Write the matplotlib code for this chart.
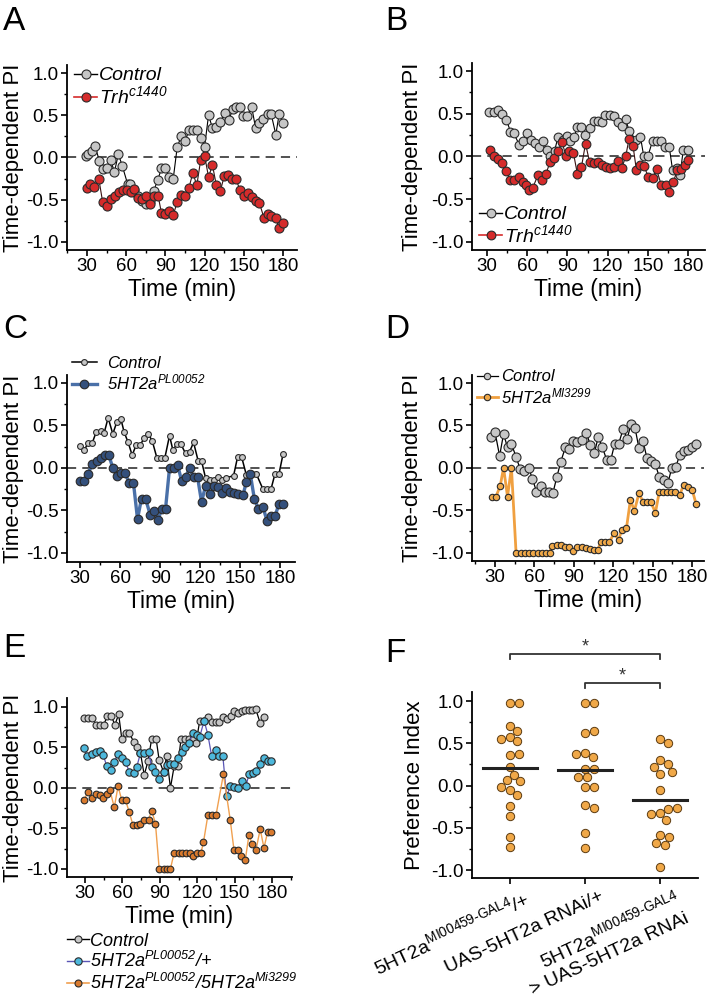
import numpy as np
import matplotlib
matplotlib.use("Agg")
import matplotlib.pyplot as plt
from matplotlib.lines import Line2D
from matplotlib.ticker import MultipleLocator
import matplotlib.transforms as mtransforms

plt.rcParams['font.family'] = ['Liberation Sans', 'DejaVu Sans']
plt.rcParams['mathtext.fontset'] = 'custom'
plt.rcParams['mathtext.rm'] = 'Liberation Sans'
plt.rcParams['mathtext.it'] = 'Liberation Sans:italic'
plt.rcParams['mathtext.sf'] = 'Liberation Sans:italic'  # italic digits too
plt.rcParams['mathtext.bf'] = 'Liberation Sans:bold'
plt.rcParams['axes.unicode_minus'] = False

# ---------------- data ----------------
# A: Trh c1440 vs control
a_ctrl_t = [29, 31, 33.5, 36, 39.5, 42, 45, 48, 51, 54, 57, 61, 63, 66, 69, 72, 75, 78, 81, 84,
            87, 90, 93, 96, 99, 102, 105, 108, 111, 114, 117, 120, 123, 126, 129, 132, 135.5, 138.5,
            141.5, 144, 147, 149.5, 152.5, 156, 159, 162, 165, 168.5, 171, 174.5, 177, 180]
a_ctrl_v = [0.02, 0.04, 0.08, 0.14, -0.04, -0.14, -0.12, -0.03, -0.17, 0.04, -0.10, -0.31, -0.31,
            -0.38, -0.45, -0.52, -0.55, -0.53, -0.40, -0.27, -0.13, -0.13, -0.23, -0.25, 0.12, 0.25,
            0.19, 0.32, 0.32, 0.33, 0.23, 0.13, 0.50, 0.35, 0.36, 0.42, 0.53, 0.44, 0.57, 0.60, 0.60,
            0.49, 0.49, 0.60, 0.35, 0.41, 0.46, 0.52, 0.51, 0.27, 0.51, 0.41]
a_trh_t = [30, 32.5, 35, 39, 42, 45, 48.5, 51.5, 54.5, 57.5, 60.5, 63.5, 66, 69, 72, 75, 78, 81,
           84.5, 87, 90, 93, 96, 99, 102, 105, 108, 111, 114, 117, 120, 123, 126, 129, 132, 135,
           138, 141, 144, 147, 150, 153, 156, 159, 162, 165.5, 168.5, 171, 174.5, 177, 180]
a_trh_v = [-0.36, -0.31, -0.35, -0.25, -0.53, -0.58, -0.49, -0.45, -0.41, -0.38, -0.39, -0.41,
           -0.37, -0.48, -0.49, -0.45, -0.55, -0.46, -0.46, -0.66, -0.67, -0.63, -0.68, -0.53,
           -0.44, -0.45, -0.36, -0.18, -0.33, -0.03, 0.02, -0.23, -0.09, -0.33, -0.40, -0.22,
           -0.21, -0.26, -0.26, -0.38, -0.46, -0.42, -0.47, -0.51, -0.54, -0.72, -0.67, -0.69,
           -0.72, -0.84, -0.78]

# B: Trh c1440 vs control (second condition)
b_ctrl_t = [31.5, 35, 38.5, 41.5, 44.5, 47.5, 50, 54, 56.5, 59.5, 62.5, 65.5, 68.5, 71.5, 74.5,
            77, 80.5, 83, 86.5, 89.5, 92, 95, 97.5, 100.5, 103, 106.5, 109.5, 112.5, 115.5, 118,
            121.5, 124.5, 127.5, 130.5, 133.5, 136, 141.5, 144.5, 147, 150, 153.5, 156.5, 159.5,
            163, 166, 168.5, 171.5, 174, 176.5, 180]
b_ctrl_v = [0.52, 0.52, 0.54, 0.50, 0.43, 0.29, 0.27, 0.14, 0.18, 0.27, 0.19, 0.16, 0.11, 0.18,
            0.08, 0.00, 0.07, 0.23, 0.19, 0.24, 0.18, 0.23, 0.35, 0.35, 0.25, 0.33, 0.41, 0.41,
            0.40, 0.49, 0.49, 0.47, 0.40, 0.36, 0.44, 0.30, 0.19, 0.23, 0.00, 0.00, 0.18, 0.18,
            0.18, 0.11, 0.11, -0.16, -0.14, -0.22, 0.08, 0.08]
b_trh_t = [32.5, 35.5, 38.5, 41.5, 44.5, 47, 50, 53.5, 56.5, 59, 61.5, 64, 68, 71, 74, 77, 80,
           83, 86, 89, 91.5, 94.5, 97.5, 100.5, 103.5, 106.5, 109.5, 112.5, 115.5, 118.5, 121.5,
           124.5, 127.5, 130.5, 133.5, 136, 139, 141.5, 144.5, 147, 150.5, 153.5, 156.5, 160,
           163.5, 166, 169, 172, 175, 178, 180]
b_trh_v = [0.08, 0.00, -0.03, -0.08, -0.17, -0.27, -0.27, -0.24, -0.30, -0.33, -0.39, -0.37,
           -0.22, -0.28, -0.20, -0.07, -0.02, 0.07, 0.17, 0.00, 0.07, 0.04, -0.21, -0.12, 0.15,
           -0.06, -0.08, -0.06, -0.10, -0.12, -0.14, -0.12, -0.05, -0.14, 0.00, 0.21, 0.12,
           -0.16, -0.10, -0.11, -0.24, -0.25, -0.15, -0.33, -0.33, -0.41, -0.30, -0.16, -0.15,
           -0.10, -0.04]

# C: 5HT2a PL00052 vs control
c_ctrl_t = [30, 33, 36, 39, 42, 45.5, 48, 51, 54.5, 57.5, 60.5, 63, 66, 69, 72, 75, 78, 81, 84,
            87.5, 90.5, 93.5, 97, 99.5, 102.5, 105.5, 109, 112, 115, 118.5, 121, 124, 127, 130,
            133, 136, 139, 145, 148, 151, 154.5, 159, 162, 167, 170, 173, 176, 179, 182]
c_ctrl_v = [0.26, 0.21, 0.29, 0.29, 0.42, 0.44, 0.41, 0.59, 0.40, 0.54, 0.58, 0.42, 0.30, 0.15,
            0.27, 0.27, 0.35, 0.40, 0.32, 0.12, 0.12, 0.12, 0.38, 0.21, 0.28, 0.28, 0.17, 0.19,
            0.30, 0.08, 0.08, -0.12, -0.14, -0.14, -0.11, -0.14, -0.12, -0.09, 0.13, 0.13, -0.08,
            -0.07, -0.07, -0.25, -0.25, -0.25, -0.07, -0.07, 0.16]
c_pl_t = [30, 33, 36, 39, 42.5, 45.5, 48.5, 51.5, 54.5, 57.5, 60.5, 63.5, 67, 70, 73, 76, 79,
          82.5, 85.5, 88.5, 91, 94, 97, 100, 103, 106, 109, 112, 115, 118, 121, 124, 127.5,
          130.5, 133.5, 136, 139, 142.5, 145.5, 148.5, 152, 154.5, 157.5, 160.5, 163.5, 167,
          170, 173, 176, 179, 182]
c_pl_v = [-0.15, -0.15, -0.07, 0.05, 0.08, 0.12, 0.15, 0.15, 0.00, -0.10, -0.06, -0.06, -0.18,
          -0.18, -0.60, -0.36, -0.36, -0.55, -0.51, -0.61, -0.48, -0.48, 0.00, 0.00, 0.04,
          -0.15, -0.11, 0.00, -0.11, -0.11, -0.40, -0.21, -0.31, -0.21, -0.23, -0.29, -0.24,
          -0.28, -0.30, -0.31, -0.32, -0.17, -0.07, -0.36, -0.48, -0.46, -0.62, -0.57, -0.57,
          -0.42, -0.42]

# D: 5HT2a MI3299 vs control
d_ctrl_t = [27, 30, 33.5, 36.5, 39.5, 42.5, 46, 49, 52, 55.5, 58.5, 61.5, 65, 68, 71, 74, 77,
            80, 83.5, 86.5, 89.5, 92.5, 96, 99.5, 102.5, 105.5, 108.5, 111.5, 115, 118, 121, 124,
            127.5, 130.5, 133.5, 136.5, 139.5, 142.5, 145.5, 148.5, 152, 155, 158.5, 161.5,
            164.5, 167.5, 170.5, 173.5, 176.5, 180, 183]
d_ctrl_v = [0.36, 0.42, 0.14, 0.40, 0.24, 0.28, 0.13, -0.01, -0.04, 0.00, -0.13, -0.28, -0.22,
            -0.28, -0.28, -0.30, -0.11, 0.07, 0.24, 0.22, 0.32, 0.31, 0.33, 0.41, 0.27, 0.17,
            0.36, 0.25, 0.09, 0.09, 0.28, 0.28, 0.46, 0.34, 0.52, 0.47, 0.23, 0.32, 0.12, 0.08,
            0.04, -0.11, -0.14, -0.18, 0.00, 0.01, 0.15, 0.20, 0.21, 0.25, 0.28]
d_mi_t = [27.5, 30.5, 34, 36.5, 39.5, 42.5, 46, 49.5, 53, 56, 59, 62.5, 65.5, 68.5, 71.5, 73.5,
          77, 80.5, 83.5, 86.5, 89.5, 92.5, 96, 99, 102, 105, 108, 110.5, 114, 117, 120.5, 124,
          126.5, 130, 133, 136, 139.5, 142.5, 145.5, 148.5, 152, 155, 158, 161, 164, 167, 170.5,
          173.5, 176.5, 180, 183]
d_mi_v = [-0.35, -0.35, -0.21, 0.00, -0.34, 0.00, -1.00, -1.00, -1.00, -1.00, -1.00, -1.00,
          -1.00, -1.00, -1.00, -0.92, -0.91, -0.91, -0.93, -0.93, -0.98, -0.93, -0.93, -0.95,
          -0.96, -0.97, -0.97, -0.88, -0.88, -0.88, -0.77, -0.85, -0.73, -0.71, -0.38, -0.51,
          -0.30, -0.40, -0.40, -0.40, -0.53, -0.28, -0.28, -0.28, -0.28, -0.28, -0.32, -0.20,
          -0.23, -0.26, -0.43]

# E: control, PL00052/+, PL00052/Mi3299
e_ctrl_t = [29, 32.5, 36, 39, 42, 45, 48, 51, 54, 57, 59.5, 62.5, 65.5, 69, 72, 74.5, 77.5, 80.5,
            83.5, 87, 89.5, 93, 95.5, 98.5, 101.5, 104.5, 107, 110, 113.5, 116.5, 119, 122, 125.5,
            128.5, 131.5, 135, 137.5, 140.5, 143.5, 147, 149.5, 152.5, 155.5, 158.5, 161.5, 164,
            167, 170.5, 173.5]
e_ctrl_v = [0.86, 0.86, 0.86, 0.78, 0.78, 0.78, 0.89, 0.89, 0.78, 0.91, 0.61, 0.68, 0.68, 0.57,
            0.50, 0.43, 0.16, 0.33, 0.61, 0.61, 0.34, 0.20, 0.39, 0.00, 0.27, 0.27, 0.61, 0.61,
            0.61, 0.61, 0.55, 0.83, 0.83, 0.87, 0.82, 0.82, 0.82, 0.88, 0.85, 0.89, 0.95, 0.93,
            0.95, 0.96, 0.96, 0.96, 0.97, 0.80, 0.88]
e_pl_t = [29, 32, 35.5, 38.5, 42, 44.5, 47.5, 50.5, 53.5, 56.5, 60, 62.5, 65.5, 69, 71.5, 74.5,
          77.5, 81, 83.5, 86.5, 89.5, 93, 95.5, 98.5, 101.5, 104.5, 107.5, 110, 113.5, 116.5,
          119.5, 122, 125.5, 128.5, 131.5, 135, 137.5, 140.5, 143.5, 146.5, 149.5, 152.5, 155.5,
          159, 161.5, 164.5, 167, 170.5, 173.5, 176.5, 179.5]
e_pl_v = [0.49, 0.39, 0.42, 0.44, 0.46, 0.41, 0.27, 0.22, 0.32, 0.42, 0.37, 0.32, 0.20, 0.19,
          0.26, 0.43, 0.43, 0.44, 0.26, 0.20, 0.11, 0.20, 0.28, 0.29, 0.30, 0.37, 0.45, 0.51,
          0.55, 0.68, 0.65, 0.63, 0.83, 0.66, 0.40, 0.47, 0.40, 0.40, -0.10, 0.02, 0.01, 0.00,
          0.09, 0.02, 0.17, 0.19, 0.21, 0.29, 0.37, 0.33, 0.33]
e_mi_t = [29, 32.5, 36, 39, 42, 44.5, 47.5, 50, 53.5, 56.5, 59.5, 62.5, 65.5, 68.5, 71.5, 74.5,
          77.5, 81, 83.5, 86.5, 89.5, 93, 95.5, 98.5, 101.5, 105, 108, 111, 114.5, 117, 119.5,
          123, 125, 128.5, 132, 135, 141, 146.5, 149.5, 152.5, 155, 158.5, 161.5, 164, 167,
          170.5, 173.5, 176.5, 179.5]
e_mi_v = [-0.15, -0.05, -0.12, -0.07, -0.09, -0.13, -0.07, -0.03, -0.24, 0.02, -0.15, -0.15,
          -0.30, -0.46, -0.46, -0.44, -0.39, -0.39, -0.28, -0.44, -1.00, -1.00, -1.00, -1.00,
          -0.80, -0.80, -0.80, -0.80, -0.80, -0.84, -0.80, -0.80, -0.67, -0.34, -0.34, -0.34,
          0.17, -0.40, -0.77, -0.77, -0.84, -0.89, -0.58, -0.69, -0.77, -0.51, -0.74, -0.54,
          -0.55]

# F: preference index per genotype
f_groups = [
    [0.98, 0.98, 0.71, 0.64, 0.58, 0.55, 0.53, 0.36, 0.37, 0.22, 0.13, 0.06, 0.05, -0.05,
     -0.02, -0.11, -0.24, -0.36, -0.61, -0.73],
    [0.98, 0.98, 0.62, 0.64, 0.39, 0.34, 0.37, 0.20, 0.20, 0.10, 0.10, -0.02, -0.02, -0.23,
     -0.27, -0.56, -0.74],
    [0.55, 0.50, 0.30, 0.25, 0.22, 0.14, 0.16, -0.05, -0.33, -0.28, -0.34, -0.27, -0.41,
     -0.59, -0.61, -0.68, -0.70, -0.97],
]
f_labels = [r'5HT2a$^{\mathrm{MI00459\text{-}GAL4}}$/+',
            'UAS-5HT2a RNAi/+',
            r'5HT2a$^{\mathrm{MI00459\text{-}GAL4}}$' + '\n> UAS-5HT2a RNAi']

# ---------------- styling ----------------
GREY = '#c6c6c6'
EDGE = '#2a2a2a'
RED = '#d52b2b'
NAVY = '#34507c'
NAVY_LINE = '#4a70a8'
ORANGE = '#f0a848'
ORANGE_LINE = '#f0a040'
CYAN = '#4db8dc'
CYAN_LINE = '#5a55b5'
BROWN = '#d97a2e'
BROWN_LINE = '#f0a050'
TICK_SIZE = 13.5


def style_time_axes(ax, xlim, ylim, ylab_x):
    for s in ['top', 'right']:
        ax.spines[s].set_visible(False)
    for s in ['left', 'bottom']:
        ax.spines[s].set_linewidth(1.3)
    ax.set_xlim(xlim)
    ax.set_ylim(ylim)
    ax.set_xticks([30, 60, 90, 120, 150, 180])
    ax.xaxis.set_minor_locator(MultipleLocator(15))
    ax.set_yticks([-1, -0.5, 0, 0.5, 1])
    ax.set_yticklabels(['-1.0', '-0.5', '0.0', '0.5', '1.0'])
    ax.yaxis.set_minor_locator(MultipleLocator(0.25))
    ax.tick_params(which='major', length=4, width=1.2, labelsize=TICK_SIZE, pad=2)
    ax.tick_params(which='minor', length=2.5, width=1.0)
    ax.set_xlabel('Time (min)', fontsize=16.5, labelpad=2)
    ax.set_ylabel('Time-dependent PI', fontsize=16)
    ax.yaxis.set_label_coords(ylab_x, 0.5)
    ax.axhline(0, color='#222222', lw=1.1, dashes=(6, 4), zorder=1)


def series(ax, t, v, lc, lw, fc, ms):
    ax.plot(t, v, '-o', color=lc, lw=lw, mfc=fc, mec=EDGE, mew=0.8, ms=ms, zorder=3)


def handle(lc, lw, fc, ms):
    return Line2D([], [], color=lc, lw=lw, marker='o', mfc=fc, mec=EDGE, mew=0.8, ms=ms)


fig = plt.figure(figsize=(7.1, 10.06), dpi=100)

TRH = r'$\mathsf{Trh}^{\mathsf{c1440}}$'
PL = r'$\mathsf{5HT2a}^{\mathsf{PL00052}}$'
MI = r'$\mathsf{5HT2a}^{\mathsf{MI3299}}$'

# ---- A ----
axA = fig.add_axes([0.0944, 0.7515, 0.3239, 0.1839])
style_time_axes(axA, (14.7, 190.7), (-1.095, 1.095), -0.187)
series(axA, a_ctrl_t, a_ctrl_v, 'black', 0.8, GREY, 6.5)
series(axA, a_trh_t, a_trh_v, '#3a1010', 0.8, RED, 6.5)
axA.legend([handle('black', 1.0, GREY, 6.5), handle(RED, 1.2, RED, 6.5)],
           ['Control', TRH],
           loc='upper left', bbox_to_anchor=(0.03, 0.99), frameon=False,
           prop={'style': 'italic', 'size': 14}, handlelength=1.2, handletextpad=0.1,
           labelspacing=0.05, borderpad=0, borderaxespad=0)

# ---- B ----
axB = fig.add_axes([0.6648, 0.7515, 0.3282, 0.1859])
style_time_axes(axB, (18.8, 192.7), (-1.094, 1.094), -0.21)
series(axB, b_ctrl_t, b_ctrl_v, 'black', 0.8, GREY, 6.3)
series(axB, b_trh_t, b_trh_v, '#3a1010', 0.8, RED, 6.3)
axB.legend([handle('black', 1.0, GREY, 6.3), handle(RED, 1.2, RED, 6.3)],
           ['Control', TRH],
           loc='lower left', bbox_to_anchor=(0.03, 0.02), frameon=False,
           prop={'style': 'italic', 'size': 14}, handlelength=1.2, handletextpad=0.1,
           labelspacing=0.05, borderpad=0, borderaxespad=0)

# ---- C ----
axC = fig.add_axes([0.0944, 0.4414, 0.3211, 0.1859])
style_time_axes(axC, (20.2, 191), (-1.106, 1.094), -0.189)
series(axC, c_ctrl_t, c_ctrl_v, 'black', 1.1, GREY, 4.2)
series(axC, c_pl_t, c_pl_v, NAVY_LINE, 2.4, NAVY, 6.2)
axC.legend([handle('black', 1.1, GREY, 4.2), handle(NAVY_LINE, 2.4, NAVY, 6.2)],
           ['Control', PL],
           loc='upper left', bbox_to_anchor=(0.02, 1.10), frameon=False,
           prop={'style': 'italic', 'size': 12}, handlelength=1.5, handletextpad=0.6,
           labelspacing=0.1, borderpad=0, borderaxespad=0)

# ---- D ----
axD = fig.add_axes([0.6648, 0.4423, 0.3268, 0.1849])
style_time_axes(axD, (12.5, 189), (-1.1, 1.094), -0.21)
series(axD, d_ctrl_t, d_ctrl_v, 'black', 0.9, GREY, 6.5)
series(axD, d_mi_t, d_mi_v, ORANGE_LINE, 2.0, ORANGE, 4.6)
axD.legend([handle('black', 0.9, GREY, 4.6), handle(ORANGE_LINE, 2.0, ORANGE, 4.6)],
           ['Control', MI],
           loc='upper left', bbox_to_anchor=(0.02, 1.03), frameon=False,
           prop={'style': 'italic', 'size': 12}, handlelength=1.3, handletextpad=0.15,
           labelspacing=0.1, borderpad=0, borderaxespad=0)

# ---- E ----
axE = fig.add_axes([0.0944, 0.1282, 0.3169, 0.1779])
style_time_axes(axE, (15.6, 196), (-1.1, 1.11), -0.191)
series(axE, e_ctrl_t, e_ctrl_v, 'black', 0.9, GREY, 5.0)
series(axE, e_pl_t, e_pl_v, CYAN_LINE, 0.9, CYAN, 5.3)
series(axE, e_mi_t, e_mi_v, BROWN_LINE, 1.0, BROWN, 4.8)
axE.legend([handle('black', 1.0, GREY, 5.0), handle(CYAN_LINE, 1.0, CYAN, 5.3),
            handle(BROWN_LINE, 1.2, BROWN, 5.0)],
           ['Control', PL + '/+',
            r'$\mathsf{5HT2a}^{\mathsf{PL00052}}\mathsf{/5HT2a}^{\mathsf{Mi3299}}$'],
           loc='upper left', bbox_to_anchor=(0.0, -0.31), frameon=False,
           prop={'style': 'italic', 'size': 13}, handlelength=1.2, handletextpad=0.1,
           labelspacing=0.1, borderpad=0, borderaxespad=0)

# ---- F ----
axF = fig.add_axes([0.6648, 0.1272, 0.3183, 0.1849])
for s in ['top', 'right']:
    axF.spines[s].set_visible(False)
for s in ['left', 'bottom']:
    axF.spines[s].set_linewidth(1.3)
axF.set_xlim(0.5, 3.5)
axF.set_ylim(-1.095, 1.107)
axF.set_yticks([-1, -0.5, 0, 0.5, 1])
axF.set_yticklabels(['-1.0', '-0.5', '0.0', '0.5', '1.0'])
axF.yaxis.set_minor_locator(MultipleLocator(0.25))
axF.set_xticks([1, 2, 3])
axF.set_xticklabels(['', '', ''])
axF.tick_params(which='major', length=4, width=1.2, labelsize=TICK_SIZE, pad=2)
axF.tick_params(which='minor', length=2.5, width=1.0)
axF.set_ylabel('Preference Index', fontsize=16)
axF.yaxis.set_label_coords(-0.21, 0.5)

# simple swarm layout in pixel space
ax_w_px = 0.3183 * 710
ax_h_px = 0.1849 * 1006
px_x = ax_w_px / 3.0
px_y = ax_h_px / (1.107 + 1.095)
diam = 8.5
for gi, vals in enumerate(f_groups):
    placed = []
    xs = []
    for v in vals:
        y = v * px_y
        cands = [0.0]
        for k in range(1, 60):
            cands += [k * 1.5, -k * 1.5]
        for c in cands:
            if all((c - px) ** 2 + (y - py) ** 2 >= diam ** 2 for px, py in placed):
                break
        placed.append((c, y))
        xs.append(gi + 1 + c / px_x)
    axF.scatter(xs, vals, s=36, color=ORANGE, edgecolor='#5a3a10', linewidth=0.7, zorder=3,
                clip_on=False)
    m = np.mean(vals)
    axF.plot([gi + 1 - 0.36, gi + 1 + 0.36], [m, m], color='#222222', lw=2.2, zorder=4)

lab_tr = axF.get_xaxis_transform() + mtransforms.ScaledTranslation(0.14, -0.10,
                                                                     fig.dpi_scale_trans)
for i, lab in enumerate(f_labels):
    axF.text(i + 1, 0, lab, transform=lab_tr, rotation=25, rotation_mode='anchor',
             ha='right', va='top', fontsize=14, multialignment='right')

# significance brackets
for (x0, x1, yb) in [(1, 3, 1.556), (2, 3, 1.213)]:
    axF.plot([x0, x0, x1, x1], [yb - 0.06, yb, yb, yb - 0.06], color='#333333', lw=1.3,
             clip_on=False)
    axF.text((x0 + x1) / 2, yb - 0.02, '*', ha='center', va='bottom', fontsize=13,
             color='#333333', clip_on=False)

# panel letters
for letter, x, y in [('A', 3, 6), ('B', 385, 6), ('C', 3, 314), ('D', 385, 314),
                     ('E', 3, 633), ('F', 385, 638)]:
    fig.text(x / 710, 1 - y / 1006, letter, fontsize=24, ha='left', va='top')

fig.savefig('out.png', dpi=100)
